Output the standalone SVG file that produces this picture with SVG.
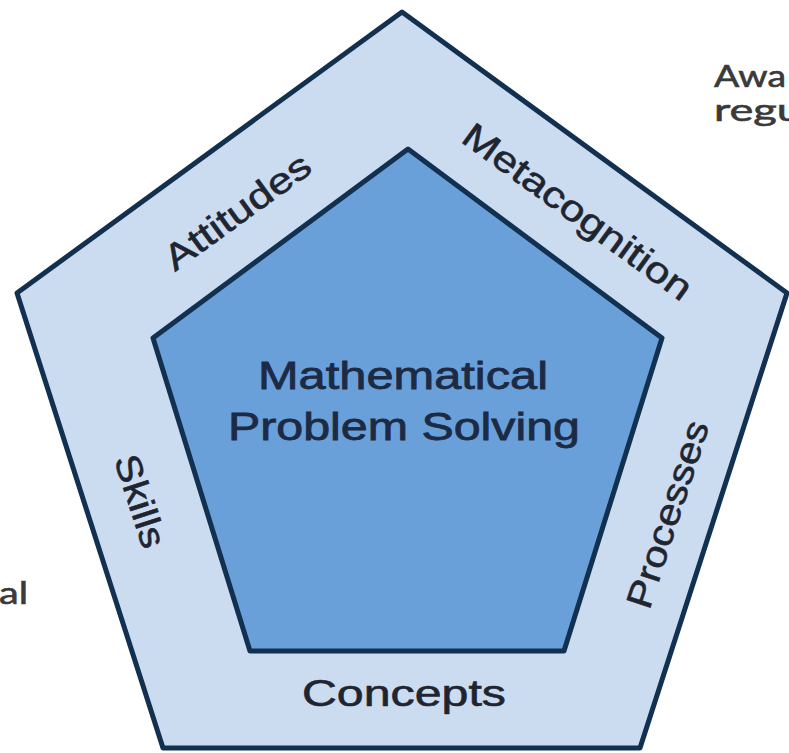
<svg xmlns="http://www.w3.org/2000/svg" width="789" height="753" viewBox="0 0 789 753">
<style>
.pent{stroke:#12304f;stroke-width:5;stroke-linejoin:round}
.outer{fill:#cbdcf0}
.inner{fill:#6aa0d9}
.lbl{font-family:"Liberation Sans",Arial,sans-serif;fill:#1c2a44;stroke:#1c2a44;stroke-width:0.8;text-anchor:middle}
.ring{font-size:36px;fill:#1f2530;stroke:#1f2530;stroke-width:0.6}
.side{font-family:Lato,"Open Sans",sans-serif;fill:#3a3a3a;stroke:#3a3a3a;stroke-width:0.6;font-size:30px}
</style>
<rect width="789" height="753" fill="#ffffff"/>
<g id="outer-ring">
<polygon class="pent outer" points="402,12 787,293 640,748 163,748 17,293"/>
</g>
<g id="core">
<polygon class="pent inner" points="408,149 662,338 564,651 250,651 153,338"/>
<text class="lbl" x="403" y="389" font-size="39" textLength="290" lengthAdjust="spacingAndGlyphs">Mathematical</text>
<text class="lbl" x="404" y="440" font-size="39" textLength="352" lengthAdjust="spacingAndGlyphs">Problem Solving</text>
</g>
<g id="attitudes"><text class="lbl ring" x="244.6" y="221.5" transform="rotate(-36 244.6 221.5)" textLength="172" lengthAdjust="spacingAndGlyphs">Attitudes</text></g>
<g id="metacognition"><text class="lbl ring" x="570.4" y="221.5" transform="rotate(36 570.4 221.5)" textLength="274" lengthAdjust="spacingAndGlyphs">Metacognition</text></g>
<g id="skills"><text class="lbl ring" x="128.6" y="505" transform="rotate(72 128.6 505)" textLength="96" lengthAdjust="spacingAndGlyphs">Skills</text></g>
<g id="processes"><text class="lbl ring" x="679.4" y="518" transform="rotate(-72 679.4 518)" textLength="195" lengthAdjust="spacingAndGlyphs">Processes</text></g>
<g id="concepts"><text class="lbl ring" x="404" y="706" font-size="37" textLength="204" lengthAdjust="spacingAndGlyphs">Concepts</text></g>
<g id="side-text">
<text class="side" x="714" y="87" textLength="72" lengthAdjust="spacingAndGlyphs">Awa</text>
<text class="side" x="714" y="121" textLength="88" lengthAdjust="spacingAndGlyphs">regu</text>
<text class="side" x="-1" y="604" textLength="29" lengthAdjust="spacingAndGlyphs">al</text>
</g>
<g id="connectors"/>
</svg>
